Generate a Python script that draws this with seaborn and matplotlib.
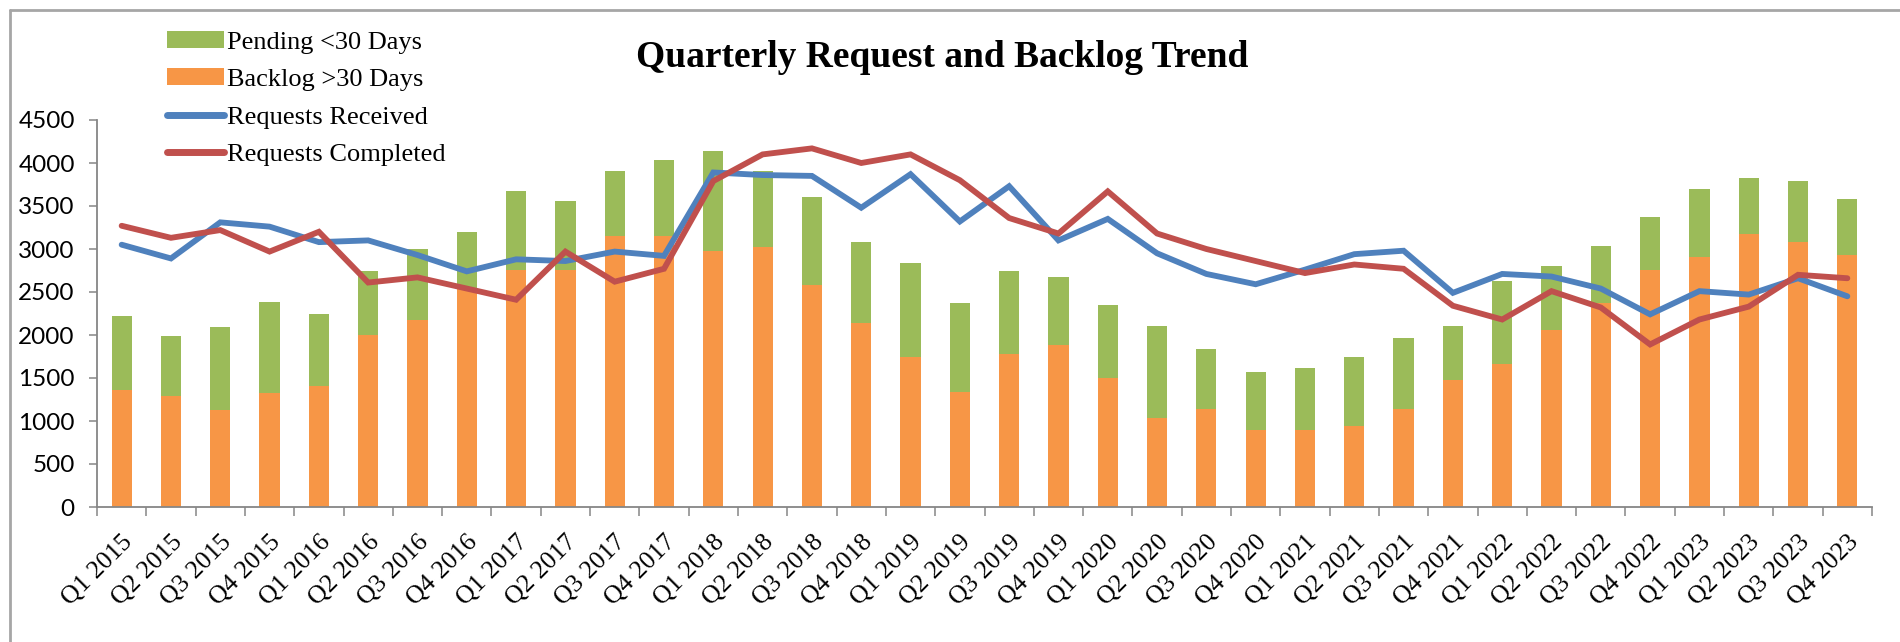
import numpy as np
import pandas as pd
import matplotlib
matplotlib.use("Agg")
import matplotlib.pyplot as plt
import seaborn as sns
from matplotlib.patches import Patch
from matplotlib.lines import Line2D
from matplotlib.ticker import FixedLocator

quarters = [f"Q{q} {y}" for y in range(2015, 2024) for q in range(1, 5)]

backlog = [1360, 1290, 1130, 1320, 1410, 2000, 2180, 2550, 2760, 2760, 3150, 3150,
           2980, 3020, 2580, 2140, 1750, 1340, 1780, 1880, 1500, 1040, 1140, 890,
           900, 940, 1140, 1480, 1660, 2060, 2370, 2760, 2910, 3180, 3080, 2930]
pending = [860, 700, 960, 1060, 840, 740, 820, 650, 910, 800, 760, 890,
           1160, 890, 1020, 940, 1090, 1030, 970, 790, 850, 1070, 700, 680,
           720, 800, 820, 630, 970, 740, 660, 610, 790, 640, 710, 650]
received = [3050, 2890, 3310, 3260, 3080, 3100, 2930, 2740, 2880, 2860, 2970, 2920,
            3890, 3860, 3850, 3480, 3870, 3320, 3730, 3100, 3350, 2950, 2710, 2590,
            2760, 2940, 2980, 2490, 2710, 2680, 2540, 2240, 2510, 2470, 2660, 2450]
completed = [3270, 3130, 3220, 2970, 3200, 2610, 2670, 2540, 2410, 2970, 2620, 2770,
             3790, 4100, 4170, 4000, 4100, 3800, 3360, 3180, 3670, 3180, 3000, 2860,
             2720, 2820, 2770, 2340, 2180, 2510, 2320, 1890, 2180, 2330, 2700, 2660]

GREEN = "#9BBB59"
ORANGE = "#F79646"
BLUE = "#4F81BD"
RED = "#C0504D"
AXIS = "#868686"

df = pd.DataFrame({
    "quarter": quarters,
    "backlog": backlog,
    "pending": pending,
    "received": received,
    "completed": completed,
})
df["total"] = df["backlog"] + df["pending"]
df["pos"] = np.arange(len(df))

sns.set_theme(style="white")
plt.rcParams["font.family"] = ["Liberation Serif", "DejaVu Serif"]
plt.rcParams["text.color"] = "black"
plt.rcParams["xtick.labelcolor"] = "black"
plt.rcParams["ytick.labelcolor"] = "black"

fig = plt.figure(figsize=(19, 6.42), dpi=100)
ax = fig.add_axes([97 / 1900, 1 - 507 / 642, (1872 - 97) / 1900, (507 - 120) / 642])

sns.barplot(data=df, x="quarter", y="total", color=GREEN, width=0.41,
            saturation=1, ax=ax, edgecolor="none", linewidth=0)
sns.barplot(data=df, x="quarter", y="backlog", color=ORANGE, width=0.41,
            saturation=1, ax=ax, edgecolor="none", linewidth=0)
sns.lineplot(data=df, x="pos", y="received", color=BLUE, linewidth=4.2, ax=ax,
             solid_joinstyle="miter", solid_capstyle="round")
sns.lineplot(data=df, x="pos", y="completed", color=RED, linewidth=4.2, ax=ax,
             solid_joinstyle="miter", solid_capstyle="round")

ax.set_xlim(-0.5, len(df) - 0.5)
ax.set_ylim(0, 4500)
ax.set_xlabel("")
ax.set_ylabel("")

for s in ["top", "right"]:
    ax.spines[s].set_visible(False)
for s in ["left", "bottom"]:
    ax.spines[s].set_color(AXIS)
    ax.spines[s].set_linewidth(1.3)

ax.set_yticks(np.arange(0, 4501, 500))
ax.tick_params(axis="y", which="major", direction="out", length=6, width=1.1,
               color=AXIS, left=True, pad=10, labelsize=17.5, labelcolor="black")
for lab in ax.get_yticklabels():
    lab.set_fontfamily(["Lato", "DejaVu Sans"])

ax.set_xticks(df["pos"])
ax.set_xticklabels(quarters, rotation=45, ha="right", rotation_mode="anchor",
                   fontsize=18.5, color="black")
ax.tick_params(axis="x", which="major", length=0, pad=17)
ax.xaxis.set_minor_locator(FixedLocator(np.arange(-0.5, len(df), 1.0)))
ax.tick_params(axis="x", which="minor", direction="out", length=6.5, width=1.1,
               color=AXIS, bottom=True)
ax.grid(False)

fig.text(0.496, 1 - 67 / 642, "Quarterly Request and Backlog Trend",
         ha="center", va="baseline", fontsize=27, fontweight="bold", color="black")

handles = [
    Patch(facecolor=GREEN, edgecolor="none", label="Pending <30 Days"),
    Patch(facecolor=ORANGE, edgecolor="none", label="Backlog >30 Days"),
    Line2D([0], [0], color=BLUE, lw=5, label="Requests Received"),
    Line2D([0], [0], color=RED, lw=5, label="Requests Completed"),
]
leg = fig.legend(handles=handles, loc="upper left",
                 bbox_to_anchor=(167 / 1900, 1 - 31 / 642),
                 frameon=False, fontsize=19, handlelength=2.15, handleheight=0.6,
                 handletextpad=0.12, labelspacing=0.56, borderpad=0, borderaxespad=0)
for t in leg.get_texts():
    t.set_color("black")

fig.add_artist(Line2D([10 / 1900, 1], [1 - 10 / 642, 1 - 10 / 642],
                      transform=fig.transFigure, color="#A6A6A6", lw=2))
fig.add_artist(Line2D([10 / 1900, 10 / 1900], [0, 1 - 10 / 642],
                      transform=fig.transFigure, color="#A6A6A6", lw=2))

fig.savefig("out.png", dpi=100, facecolor="white")
